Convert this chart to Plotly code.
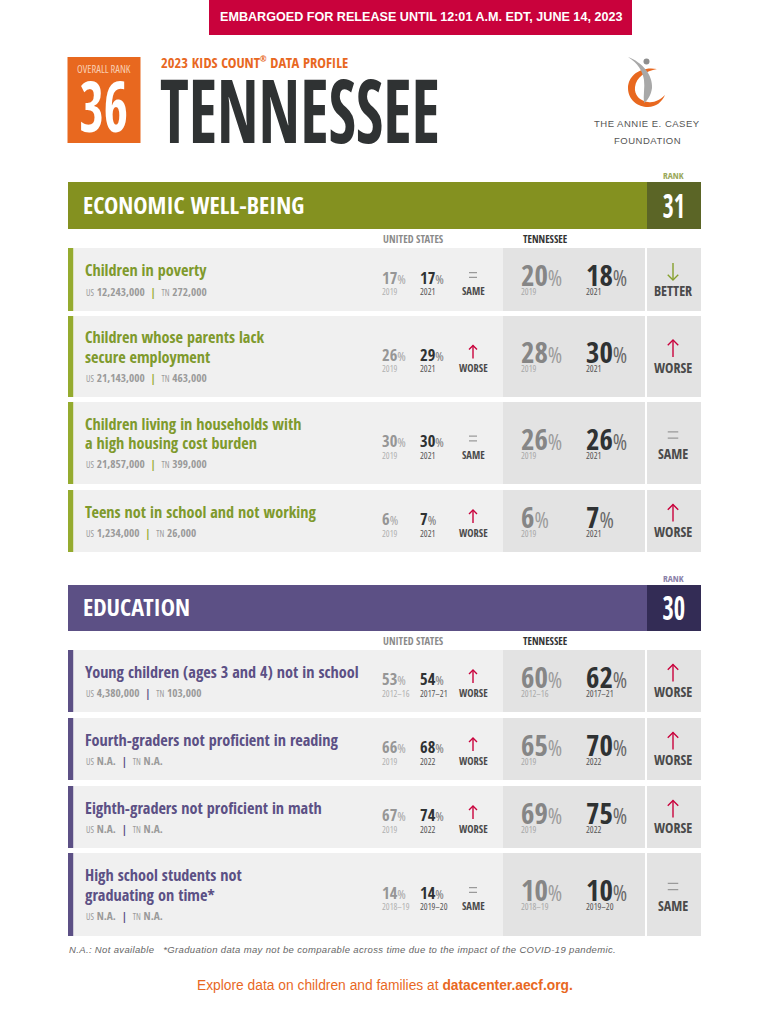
import json
import plotly.graph_objects as go

# ---- data ----
overall_rank = 36
state = "TENNESSEE"
banner = "EMBARGOED FOR RELEASE UNTIL 12:01 A.M. EDT, JUNE 14, 2023"
subtitle = "2023 KIDS COUNT<sup><span style='font-size:8px'>®</span></sup> DATA PROFILE"

econ_name = "ECONOMIC WELL-BEING"
econ_rank = 31
econ_titles = [
    ["Children in poverty"],
    ["Children whose parents lack", "secure employment"],
    ["Children living in households with", "a high housing cost burden"],
    ["Teens not in school and not working"],
]
econ_us_count = ["12,243,000", "21,143,000", "21,857,000", "1,234,000"]
econ_tn_count = ["272,000", "463,000", "399,000", "26,000"]
econ_us_old = [17, 26, 30, 6]
econ_us_new = [17, 29, 30, 7]
econ_tn_old = [20, 28, 26, 6]
econ_tn_new = [18, 30, 26, 7]
econ_years = [("2019", "2021")] * 4
econ_us_change = ["SAME", "WORSE", "SAME", "WORSE"]
econ_tn_change = ["BETTER", "WORSE", "SAME", "WORSE"]

edu_name = "EDUCATION"
edu_rank = 30
edu_titles = [
    ["Young children (ages 3 and 4) not in school"],
    ["Fourth-graders not proficient in reading"],
    ["Eighth-graders not proficient in math"],
    ["High school students not", "graduating on time*"],
]
edu_us_count = ["4,380,000", "N.A.", "N.A.", "N.A."]
edu_tn_count = ["103,000", "N.A.", "N.A.", "N.A."]
edu_us_old = [53, 66, 67, 14]
edu_us_new = [54, 68, 74, 14]
edu_tn_old = [60, 65, 69, 10]
edu_tn_new = [62, 70, 75, 10]
edu_years = [("2012–16", "2017–21"), ("2019", "2022"), ("2019", "2022"), ("2018–19", "2019–20")]
edu_us_change = ["WORSE", "WORSE", "WORSE", "SAME"]
edu_tn_change = ["WORSE", "WORSE", "WORSE", "SAME"]

footnote = ("N.A.: Not available &nbsp; *Graduation data may not be comparable across time "
            "due to the impact of the COVID-19 pandemic.")

# ---- page layout (pixels) ----
COND = "Open Sans Condensed"
SANS = "Liberation Sans"
ORANGE = "#E8681F"
RED = "#C9023C"
DARK = "#2F3233"
THIN = "font-family:Open Sans;font-stretch:75%;font-weight:normal"

# the installed condensed face is wider than the original display type
squeeze = {state: 0.755, str(overall_rank): 0.74, str(econ_rank): 0.7, str(edu_rank): 0.72}

anns = []
shapes = []


def box(x0, y0, x1, y1, color):
    shapes.append(dict(type="rect", x0=x0, y0=y0, x1=x1, y1=y1, xref="x", yref="y",
                       fillcolor=color, line_width=0, layer="below"))


def path(d, color, width=0, fill=None):
    shapes.append(dict(type="path", path=d, xref="x", yref="y",
                       fillcolor=fill if fill else "rgba(0,0,0,0)",
                       line=dict(color=color, width=width)))


def txt(x, y, s, size, color, font=COND, anchor="left"):
    anns.append(dict(x=x, y=y, xref="x", yref="y", text=s, showarrow=False, xanchor=anchor,
                     yanchor="middle", align=anchor, borderpad=0,
                     font=dict(family=font, size=size, color=color)))


def thin(s):
    return f"<span style='{THIN}'>{s}</span>"


def pct(v, pct_size, pct_color):
    return f"{v}<span style='{THIN};font-size:{pct_size}px;fill:{pct_color}'>%</span>"


def change_mark(cx, cy, change, scale, label_y, label_size):
    if change == "SAME":
        c = "#9a9a9a"
        path(f"M {cx-5*scale} {cy-3*scale} L {cx+5*scale} {cy-3*scale} "
             f"M {cx-5*scale} {cy+3*scale} L {cx+5*scale} {cy+3*scale}", c, 1.2)
    else:
        c = RED if change == "WORSE" else "#86A02C"
        h = 8 * scale
        tip = cy - h if change == "WORSE" else cy + h
        back = tip + 5 * scale if change == "WORSE" else tip - 5 * scale
        path(f"M {cx} {cy-h} L {cx} {cy+h}", c, 1.4)
        path(f"M {cx-5*scale} {back} L {cx} {tip} L {cx+5*scale} {back}", c, 1.4)
    txt(cx, label_y, change, label_size, "#4a4a4a", anchor="center")


def section(band_top, band_bot, rows, name, rank, band, band_dark, accent, title_color, rank_color,
            titles, us_count, tn_count, us_old, us_new, tn_old, tn_new, years, us_change, tn_change):
    box(68, band_top, 701, band_bot, band)
    box(647, band_top, 701, band_bot, band_dark)
    txt(82, (band_top + band_bot) / 2 - 1.5, name, 24, "white")
    txt(673.5, (band_top + band_bot) / 2 - 1, str(rank), 34, "white", anchor="center")
    txt(673, band_top - 7, "RANK", 9.5, rank_color, anchor="center")
    txt(413, band_bot + 9.5, "UNITED STATES", 10.5, "#8a8a8a", anchor="center")
    txt(545, band_bot + 9.5, "TENNESSEE", 10.5, "#333333", anchor="center")

    for i, (top, bot) in enumerate(rows):
        mid = (top + bot) / 2
        box(68, top, 73.5, bot, accent)
        box(73.5, top, 503, bot, "#F0F0F0")
        box(503, top, 645, bot, "#E3E3E3")
        box(647, top, 701, bot, "#E3E3E3")

        lines = titles[i]
        if len(lines) == 1:
            txt(84, mid - 9.5, lines[0], 16.2, title_color)
            count_y = mid + 11.5
        else:
            txt(84, mid - 19.5, lines[0], 16.2, title_color)
            txt(84, mid, lines[1], 16.2, title_color)
            count_y = mid + 20.5
        txt(84.5, count_y,
            f"<span style='{THIN};font-size:8.5px'>US</span> {us_count[i]}"
            f" <span style='fill:{accent}'> | </span> "
            f"<span style='{THIN};font-size:8.5px'>TN</span> {tn_count[i]}",
            11.3, "#9a9a9a")

        year_y = mid + 12
        txt(380.5, mid - 2.5, pct(us_old[i], 13, "#a5a5a5"), 16.5, "#969696")
        txt(418.5, mid - 2.5, pct(us_new[i], 13, "#777777"), 16.5, DARK)
        txt(380.5, year_y, thin(years[i][0]), 9, "#b0b0b0")
        txt(418.5, year_y, thin(years[i][1]), 9, "#555555")
        change_mark(473, mid - 4.5, us_change[i], 0.8, mid + 11.5, 10.5)

        txt(519.5, mid - 5, pct(tn_old[i], 22, "#9c9c9c"), 29, "#868686")
        txt(584.5, mid - 5, pct(tn_new[i], 22, "#6a6a6a"), 29, DARK)
        txt(519.5, year_y, thin(years[i][0]), 9, "#a8a8a8")
        txt(584.5, year_y, thin(years[i][1]), 9, "#555555")
        change_mark(673, mid - 8, tn_change[i], 1.05, mid + 10.5, 14)


# header
box(209, 0, 632, 35, RED)
txt(420.5, 17, f"<b>{banner}</b>", 12.6, "white", font=SANS, anchor="center")
box(67.5, 57, 140.5, 143, ORANGE)
txt(104, 68.5, thin("OVERALL RANK"), 10.5, "#F8CDB0", anchor="center")
txt(103.5, 104.5, str(overall_rank), 71, "white", anchor="center")
txt(159.5, 62, subtitle, 14.6, ORANGE)
txt(159, 108.5, state, 88, DARK)

# logo
path("M 657 69 C 640 66 628 76 628 88 C 628 100 638 107 648 107 C 656 107 662 102 665 95 "
     "C 660 100 654 103 648 102 C 640 101 634 95 635 87 C 636 77 646 71 657 69 Z",
     ORANGE, 0, ORANGE)
path("M 628 57 C 642 62 653 75 652 88 C 651 95 648 100 644 103 C 643 95 645 88 644 80 "
     "C 643 72 638 63 628 57 Z", "#A8A8A8", 0, "#A8A8A8")
shapes.append(dict(type="circle", x0=643.5, y0=58.5, x1=649.5, y1=64.5, xref="x", yref="y",
                   fillcolor="#8E8E8E", line_width=0))
txt(647, 123.5, "<span style='letter-spacing:0.5px'>THE ANNIE E. CASEY</span>", 9.5, "#555555", font=SANS, anchor="center")
txt(647, 140, "<span style='letter-spacing:0.5px'>FOUNDATION</span>", 9.5, "#555555", font=SANS, anchor="center")

section(182, 229, [(248, 311), (316, 397), (402, 484), (490, 552)], econ_name, econ_rank,
        "#849120", "#5B6526", "#95AB2F", "#7F9A2D", "#9AA85A",
        econ_titles, econ_us_count, econ_tn_count, econ_us_old, econ_us_new, econ_tn_old, econ_tn_new,
        econ_years, econ_us_change, econ_tn_change)
section(585, 631, [(650, 712), (718, 780), (786, 848), (853, 936)], edu_name, edu_rank,
        "#5C5085", "#332C55", "#5C5085", "#5C5085", "#8A80A8",
        edu_titles, edu_us_count, edu_tn_count, edu_us_old, edu_us_new, edu_tn_old, edu_tn_new,
        edu_years, edu_us_change, edu_tn_change)

txt(67.5, 949, f"<i><span style='letter-spacing:0.35px'>{footnote}</span></i>", 9.5, "#666666", font=SANS)
txt(385, 985.5, "Explore data on children and families at <b>datacenter.aecf.org.</b>",
    13.8, ORANGE, font=SANS, anchor="center")

fig = go.Figure()
fig.update_layout(
    width=768, height=1024,
    margin=dict(l=0, r=0, t=0, b=0),
    paper_bgcolor="white", plot_bgcolor="white",
    showlegend=False,
    xaxis=dict(range=[0, 768], visible=False, fixedrange=True),
    yaxis=dict(range=[1024, 0], visible=False, fixedrange=True),
    shapes=shapes, annotations=anns,
)

# page margin off, and narrow the big display numbers and the state name
post = """
document.body.style.margin = '0';
var squeeze = %s;
function narrow() {
  document.querySelectorAll('.annotation-text').forEach(function (el) {
    var s = squeeze[el.textContent];
    if (s && parseFloat(el.style.fontSize) >= 30) {
      var x = parseFloat(el.getAttribute('x')) || 0;
      el.setAttribute('transform', 'translate(' + x + ',0) scale(' + s + ',1) translate(' + (-x) + ',0)');
    }
  });
}
narrow();
[0, 50, 200, 500].forEach(function (t) { setTimeout(narrow, t); });
""" % json.dumps(squeeze)

fig.write_html("out.html", config={"displayModeBar": False}, post_script=post)
